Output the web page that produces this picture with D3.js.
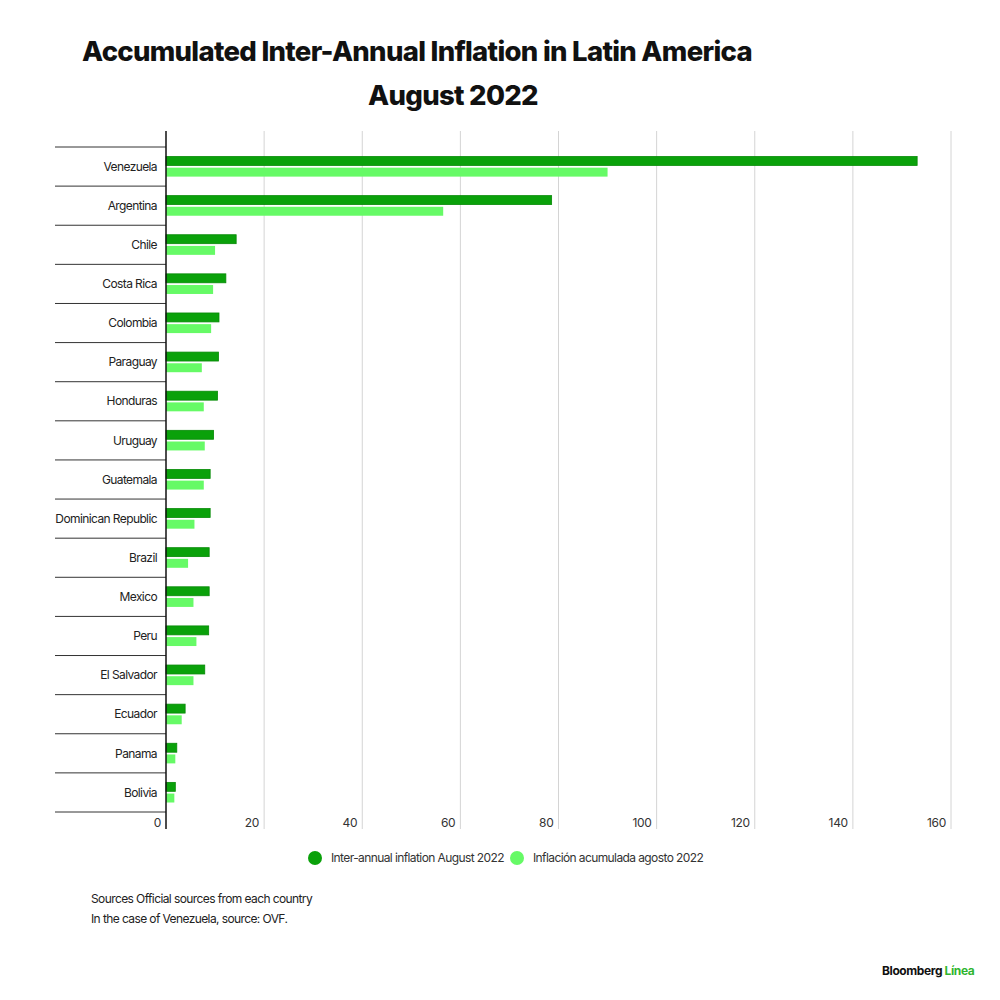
<!DOCTYPE html>
<html>
<head>
<meta charset="utf-8">
<script src="https://cdn.jsdelivr.net/npm/d3@7"></script>
<style>
  body { margin: 0; background: #fff; }
  text { font-family: Inter, "Noto Sans", sans-serif; }
</style>
</head>
<body>
<div id="chart"></div>
<script>
// data
var countries = ["Venezuela", "Argentina", "Chile", "Costa Rica", "Colombia", "Paraguay", "Honduras",
    "Uruguay", "Guatemala", "Dominican Republic", "Brazil", "Mexico", "Peru", "El Salvador",
    "Ecuador", "Panama", "Bolivia"];
var interAnnual = [153.1, 78.6, 14.3, 12.2, 10.8, 10.7, 10.5, 9.7, 9.0, 9.0, 8.8, 8.8, 8.7, 7.9, 3.9, 2.2, 1.9];
var accumulated = [90.0, 56.5, 10.0, 9.6, 9.2, 7.3, 7.7, 7.9, 7.7, 5.8, 4.5, 5.6, 6.2, 5.6, 3.2, 1.9, 1.7];
var xTicks = [0, 20, 40, 60, 80, 100, 120, 140, 160];
var seriesNames = ["Inter-annual inflation August 2022", "Inflación acumulada agosto 2022"];

var width = 1000, height = 1000;
var colors = ["#0aa10a", "#66fa66"];
var small = 12, tight = "-0.6px"; // small text style

var svg = d3.select("#chart").append("svg")
    .attr("width", width).attr("height", height);

// scales
var x = d3.scaleLinear().domain([0, 160]).range([166, 951]);
var y = d3.scaleBand().domain(countries).range([147, 812]);
var inner = d3.scaleBand().domain([0, 1]).range([0, y.bandwidth()]).paddingInner(0.2).paddingOuter(0.85);

// title
svg.append("text").attr("x", 417).attr("y", 61).attr("text-anchor", "middle")
    .style("font-size", "27.5px").style("font-weight", 800).style("letter-spacing", "-0.7px")
    .attr("fill", "#111").text("Accumulated Inter-Annual Inflation in Latin America");
svg.append("text").attr("x", 453).attr("y", 105).attr("text-anchor", "middle")
    .style("font-size", "27.5px").style("font-weight", 800).style("letter-spacing", "-0.7px")
    .attr("fill", "#111").text("August 2022");

// grid lines
svg.selectAll("line.grid").data(xTicks.slice(1)).enter().append("line")
    .attr("class", "grid")
    .attr("x1", function(d) { return x(d); })
    .attr("x2", function(d) { return x(d); })
    .attr("y1", 131).attr("y2", 829)
    .attr("stroke", "#d4d4d4").attr("stroke-width", 1);

// row separators on the left
svg.selectAll("line.sep").data(d3.range(countries.length + 1)).enter().append("line")
    .attr("class", "sep")
    .attr("x1", 55).attr("x2", 166)
    .attr("y1", function(d) { return 147 + d * y.step(); })
    .attr("y2", function(d) { return 147 + d * y.step(); })
    .attr("stroke", "#333").attr("stroke-width", 1);

// bars
var rows = svg.selectAll("g.row").data(countries).enter().append("g")
    .attr("class", "row")
    .attr("transform", function(d) { return "translate(0," + y(d) + ")"; });

rows.append("rect")
    .attr("x", x(0))
    .attr("y", inner(0))
    .attr("height", inner.bandwidth())
    .attr("width", function(d, i) { return x(interAnnual[i]) - x(0); })
    .attr("fill", colors[0]).attr("stroke", "#078a07").attr("stroke-width", 0.8);

rows.append("rect")
    .attr("x", x(0))
    .attr("y", inner(1))
    .attr("height", inner.bandwidth())
    .attr("width", function(d, i) { return x(accumulated[i]) - x(0); })
    .attr("fill", colors[1]);

// country labels
rows.append("text")
    .attr("x", 157).attr("y", y.bandwidth() / 2).attr("dy", ".35em")
    .attr("text-anchor", "end")
    .style("font-size", small + "px").style("letter-spacing", tight)
    .attr("fill", "#222")
    .text(function(d) { return d; });

// axis line
svg.append("line").attr("x1", x(0)).attr("x2", x(0)).attr("y1", 131).attr("y2", 829)
    .attr("stroke", "#111").attr("stroke-width", 1.5);

// tick labels
svg.selectAll("text.tick").data(xTicks).enter().append("text")
    .attr("class", "tick")
    .attr("x", function(d) { return x(d) - 5; })
    .attr("y", 827)
    .attr("text-anchor", "end")
    .style("font-size", small + "px").style("letter-spacing", "-0.3px")
    .attr("fill", "#333")
    .text(function(d) { return d; });

// legend
var legendX = [315, 517];
var legend = svg.selectAll("g.legend").data(seriesNames).enter().append("g")
    .attr("class", "legend")
    .attr("transform", function(d, i) { return "translate(" + legendX[i] + ",858)"; });
legend.append("circle").attr("r", 7).attr("fill", function(d, i) { return colors[i]; });
legend.append("text").attr("x", 16).attr("dy", ".35em")
    .style("font-size", small + "px").style("letter-spacing", tight)
    .attr("fill", "#333").text(function(d) { return d; });

// sources
svg.append("text").attr("x", 91).attr("y", 903)
    .style("font-size", small + "px").style("letter-spacing", tight).attr("fill", "#222")
    .text("Sources Official sources from each country");
svg.append("text").attr("x", 91).attr("y", 923)
    .style("font-size", small + "px").style("letter-spacing", tight).attr("fill", "#222")
    .text("In the case of Venezuela, source: OVF.");

// logo
var logo = svg.append("text").attr("x", 882).attr("y", 975)
    .style("font-size", "12px").style("font-weight", 700).style("letter-spacing", "-0.4px");
logo.append("tspan").attr("fill", "#111").text("Bloomberg ");
logo.append("tspan").attr("fill", "#2fb52f").text("Línea");
</script>
</body>
</html>
